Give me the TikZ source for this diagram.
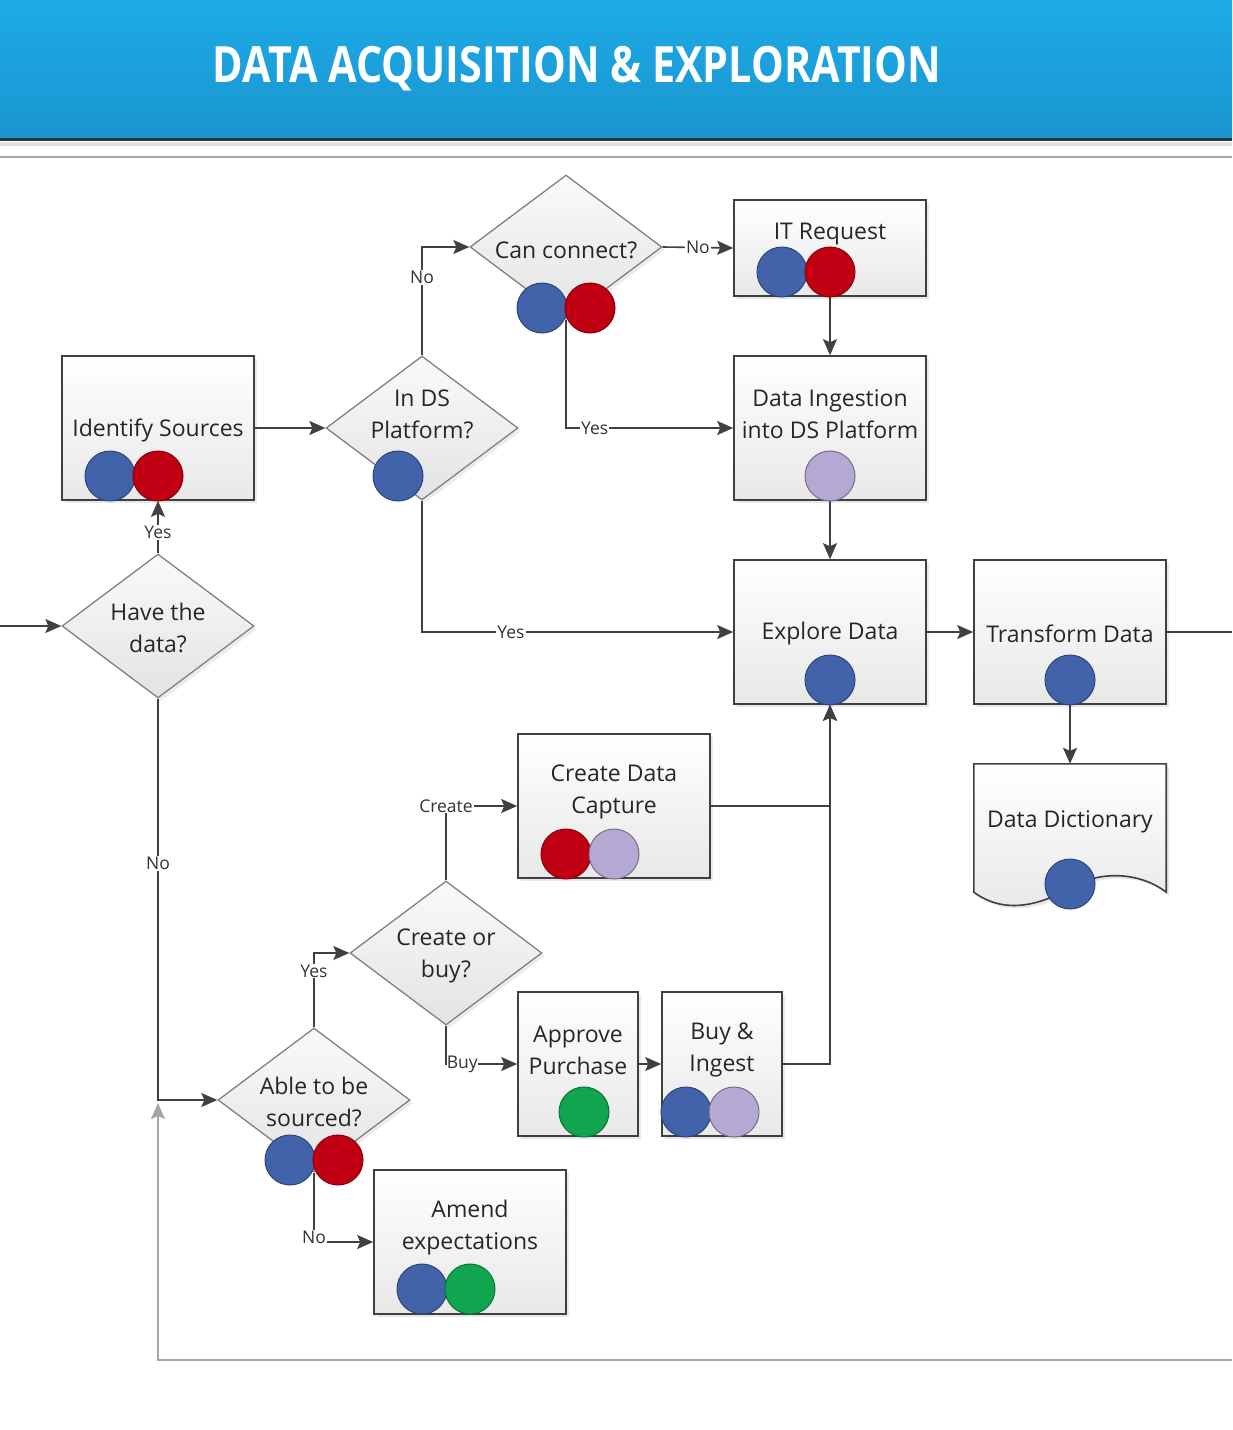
\documentclass[tikz,border=0pt]{standalone}
\usepackage{graphicx}
\usepackage{fontspec}
\setmainfont{Open Sans}
\usetikzlibrary{arrows.meta,shapes.geometric,shadows}
\definecolor{hdtop}{HTML}{1EABE7}
\definecolor{hdbot}{HTML}{1995CF}
\definecolor{hdline}{HTML}{27363D}
\definecolor{lnk}{HTML}{404040}
\definecolor{cblue}{HTML}{4262AA}
\definecolor{cred}{HTML}{C00012}
\definecolor{clav}{HTML}{B5A9D3}
\definecolor{cgreen}{HTML}{12A550}
\begin{document}
\begin{tikzpicture}[x=1pt,y=-1pt,>={Stealth[length=16pt,width=14pt,inset=3pt]},
    box/.style={draw=black!75,line width=1.6pt,top color=white,bottom color=black!9,
      minimum width=192pt,minimum height=144pt,inner sep=0pt,
      drop shadow={opacity=0.18,shadow xshift=3pt,shadow yshift=-3pt}},
    dia/.style={diamond,draw=black!50,line width=1.3pt,top color=black!2,bottom color=black!11,
      minimum width=192pt,minimum height=144pt,inner sep=0pt,
      drop shadow={opacity=0.15,shadow xshift=3pt,shadow yshift=-3pt}},
    txt/.style={font=\fontsize{23}{32}\selectfont,text=black!85,align=center,inner sep=0pt},
    lbl/.style={font=\fontsize{17.5}{18}\selectfont,text=black!80,fill=white,inner sep=1pt},
    dot/.style={circle,minimum size=50pt,inner sep=0pt,line width=1pt},
    bdot/.style={dot,fill=cblue,draw=cblue!70!black},
    rdot/.style={dot,fill=cred,draw=cred!70!black},
    ldot/.style={dot,fill=clav,draw=clav!65!black},
    gdot/.style={dot,fill=cgreen,draw=cgreen!70!black},
    link/.style={draw=lnk,line width=1.6pt},
    back/.style={draw=black!35,line width=1.8pt}]
\useasboundingbox (0,0) rectangle (1232,1430);
% header
\shade[top color=hdtop,bottom color=hdbot] (0,0) rectangle (1232,139);
\fill[hdline] (0,138) rectangle (1232,141);
\fill[black!12] (0,142) rectangle (1232,146);
\draw[black!35,line width=2pt] (0,157) -- (1232,157);
\node[text=white,inner sep=0pt] (title) at (577,69)
  {\resizebox{728pt}{\height}{\fontsize{50}{50}\selectfont\bfseries DATA ACQUISITION \& EXPLORATION}};

% process boxes
\node[box] (ids) at (158,428) {};
\node[box,minimum height=96pt] (itr) at (830,248) {};
\node[box] (din) at (830,428) {};
\node[box] (exp) at (830,632) {};
\node[box] (trf) at (1070,632) {};
\node[box] (cdc) at (614,806) {};
\node[box,minimum width=120pt] (apr) at (578,1064) {};
\node[box,minimum width=120pt] (bai) at (722,1064) {};
\node[box] (amd) at (470,1242) {};
% decisions
\node[dia] (dsp) at (422,428) {};
\node[dia] (cc) at (566,247) {};
\node[dia] (hav) at (158,626) {};
\node[dia] (cob) at (446,953) {};
\node[dia] (abs) at (314,1100) {};
% document
\node[minimum width=192pt,minimum height=128pt,inner sep=0pt] (dd) at (1070,828) {};
\draw[draw=black!75,line width=1.6pt,top color=white,bottom color=black!9,
    drop shadow={opacity=0.18,shadow xshift=3pt,shadow yshift=-3pt}]
  (dd.south west) -- (dd.north west) -- (dd.north east) -- (dd.south east)
  .. controls (1140,872) and (1100,870) .. (1070,888)
  .. controls (1040,905) and (1005,915) .. (dd.south west) -- cycle;

% texts
\node[txt] (ids-t) at (158,430) {Identify Sources};
\node[txt] (dsp-t) at (422,414) {In DS\\Platform?};
\node[txt] (cc-t) at (566,250) {Can connect?};
\node[txt] (itr-t) at (830,234) {IT Request};
\node[txt] (din-t) at (830,414) {Data Ingestion\\into DS Platform};
\node[txt] (hav-t) at (158,628) {Have the\\data?};
\node[txt] (exp-t) at (830,634) {Explore Data};
\node[txt] (trf-t) at (1070,634) {Transform Data};
\node[txt] (dd-t) at (1070,822) {Data Dictionary};
\node[txt] (cdc-t) at (614,792) {Create Data\\Capture};
\node[txt] (cob-t) at (446,956) {Create or\\buy?};
\node[txt] (apr-t) at (578,1050) {Approve\\Purchase};
\node[txt] (bai-t) at (722,1050) {Buy \&\\Ingest};
\node[txt] (abs-t) at (314,1102) {Able to be\\sourced?};
\node[txt] (amd-t) at (470,1228) {Amend\\expectations};

% connectors
\coordinate (in) at (0,626);
\coordinate (out) at (1232,632);
\coordinate (ret) at (1232,1360);
\coordinate (retend) at (158,1103);
\draw[link,->] (in) -- (hav.west);
\draw[link,->] (hav.north) -- node[lbl,pos=0.4]{Yes} (ids.south);
\draw[link,->] (hav.south) |- node[lbl,pos=0.205]{No} (abs.west);
\draw[link,->] (ids.east) -- (dsp.west);
\draw[link,->] (dsp.north) |- node[lbl,pos=0.36]{No} (cc.west);
\draw[link,->] (dsp.south) |- node[lbl,pos=0.643]{Yes} (exp.west);
\draw[link,->] (cc.east) -- node[lbl]{No} (itr.west);
\draw[link,->] (cc.south) |- node[lbl,pos=0.586]{Yes} (din.west);
\draw[link,->] (itr.south) -- (din.north);
\draw[link,->] (din.south) -- (exp.north);
\draw[link,->] (exp.east) -- (trf.west);
\draw[link] (trf.east) -- (out);
\draw[link,->] (trf.south) -- (dd.north);
\draw[link,->] (cdc.east) -| (exp.south);
\draw[link,->] (bai.east) -| (exp.south);
\draw[link,->] (cob.north) |- node[lbl,pos=0.5]{Create} (cdc.west);
\draw[link,->] (cob.south) |- node[lbl,pos=0.5,anchor=west,inner sep=0pt]{Buy} (apr.west);
\draw[link,->] (apr.east) -- (bai.west);
\draw[link,->] (abs.north) |- node[lbl,pos=0.38]{Yes} (cob.west);
\draw[link,->] (abs.south) |- node[lbl,pos=0.5,yshift=5pt]{No} (amd.west);
\draw[back,->] (ret) -| (retend);

% roles
\node[bdot] (ids-b) at (110,476) {};
\node[rdot] (ids-r) at (158,476) {};
\node[bdot] (dsp-b) at (398,476) {};
\node[bdot] (cc-b) at (542,308) {};
\node[rdot] (cc-r) at (590,308) {};
\node[bdot] (itr-b) at (782,272) {};
\node[rdot] (itr-r) at (830,272) {};
\node[ldot] (din-l) at (830,476) {};
\node[bdot] (exp-b) at (830,680) {};
\node[bdot] (trf-b) at (1070,680) {};
\node[bdot] (dd-b) at (1070,884) {};
\node[rdot] (cdc-r) at (566,854) {};
\node[ldot] (cdc-l) at (614,854) {};
\node[gdot] (apr-g) at (584,1112) {};
\node[bdot] (bai-b) at (686,1112) {};
\node[ldot] (bai-l) at (734,1112) {};
\node[bdot] (abs-b) at (290,1160) {};
\node[rdot] (abs-r) at (338,1160) {};
\node[bdot] (amd-b) at (422,1289) {};
\node[gdot] (amd-g) at (470,1289) {};
\end{tikzpicture}
\end{document}
